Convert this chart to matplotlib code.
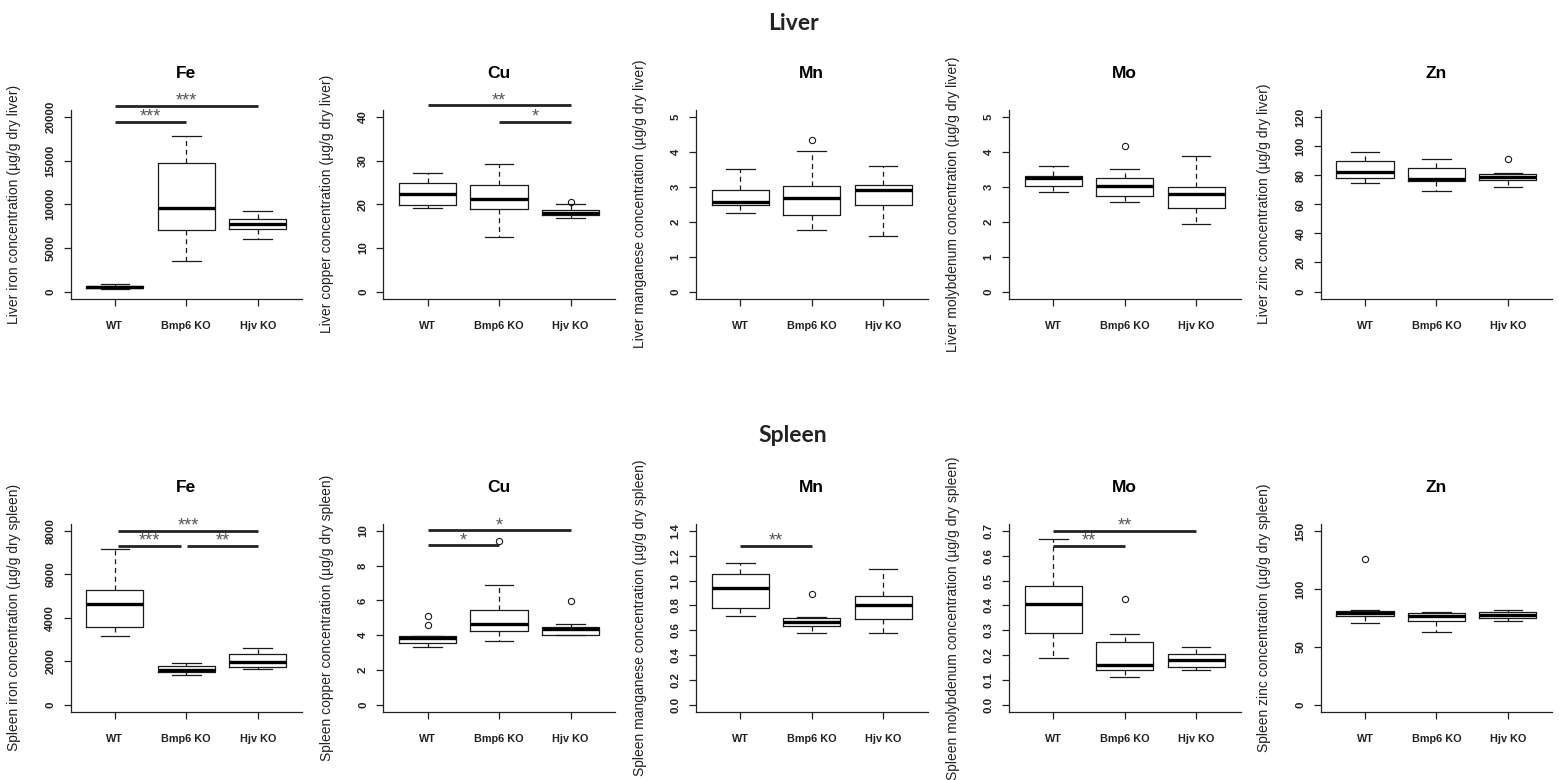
import numpy as np
import matplotlib.pyplot as plt

plt.rcParams['font.family'] = ['Liberation Sans', 'DejaVu Sans']

groups = ["WT", "Bmp6 KO", "Hjv KO"]
elements = ["Fe", "Cu", "Mn", "Mo", "Zn"]
element_names = ["iron", "copper", "manganese", "molybdenum", "zinc"]

# five-number summaries per group: whisker low, Q1, median, Q3, whisker high
liver_fe = [[300, 380, 520, 680, 850], [3460, 7100, 9600, 14700, 17860], [5980, 7180, 7750, 8270, 9170]]
liver_cu = [[19.2, 19.8, 22.4, 24.9, 27.2], [12.6, 18.8, 21.2, 24.3, 29.2], [16.9, 17.5, 17.9, 18.6, 20.0]]
liver_mn = [[2.24, 2.47, 2.57, 2.91, 3.51], [1.76, 2.19, 2.67, 3.01, 4.03], [1.59, 2.47, 2.91, 3.06, 3.61]]
liver_mo = [[2.85, 3.01, 3.26, 3.30, 3.59], [2.57, 2.75, 3.02, 3.25, 3.52], [1.93, 2.38, 2.78, 3.00, 3.87]]
liver_zn = [[74.5, 78.3, 82.0, 89.5, 95.6], [68.8, 75.8, 77.2, 84.7, 90.8], [71.7, 76.7, 78.8, 81.1, 81.7]]

spleen_fe = [[3165, 3570, 4630, 5260, 7190], [1386, 1522, 1612, 1778, 1899], [1628, 1733, 1989, 2336, 2607]]
spleen_cu = [[3.31, 3.58, 3.82, 3.97, 3.97], [3.69, 4.24, 4.65, 5.48, 6.87], [4.03, 4.03, 4.35, 4.50, 4.63]]
spleen_mn = [[0.712, 0.783, 0.941, 1.057, 1.144], [0.580, 0.635, 0.670, 0.701, 0.709], [0.575, 0.691, 0.801, 0.875, 1.091]]
spleen_mo = [[0.190, 0.290, 0.405, 0.477, 0.667], [0.113, 0.138, 0.161, 0.252, 0.283], [0.141, 0.152, 0.179, 0.206, 0.231]]
spleen_zn = [[70.9, 76.3, 78.8, 80.8, 82.2], [63.0, 72.0, 76.6, 79.1, 79.7], [72.0, 74.9, 77.4, 79.9, 82.2]]

# outliers per group
liver_fliers = [[[], [], []], [[], [], [20.6]], [[], [4.35], []], [[], [4.17], []], [[], [], [91.3]]]
spleen_fliers = [[[], [], []], [[5.10, 4.60], [9.40], [5.97]], [[], [0.891], []], [[], [0.426], []], [[126.0], [], []]]

# axis ranges and tick steps
liver_ymax = [20000, 40, 5, 5, 120]
liver_step = [5000, 10, 1, 1, 20]
spleen_ymax = [8000, 10, 1.4, 0.7, 150]
spleen_step = [2000, 2, 0.2, 0.1, 50]

# significance bars: (from group, to group, height, stars)
liver_sig = [[(1, 3, 21300, '***'), (1, 2, 19450, '***')],
             [(1, 3, 42.7, '**'), (2, 3, 38.9, '*')],
             [], [], []]
spleen_sig = [[(1.05, 3.0, 8020, '***'), (1.05, 1.93, 7330, '***'), (2.01, 3.0, 7330, '**')],
              [(1, 3, 10.05, '*'), (1, 2, 9.17, '*')],
              [(1, 2, 1.28, '**')],
              [(1, 3, 0.70, '**'), (1, 2, 0.64, '**')],
              []]

W, H = 1559, 780
fig = plt.figure(figsize=(W / 100, H / 100), dpi=100)

col_left = [70.5, 383.3, 696, 1009, 1320.7]
ax_w = 231.5
rows = [
    ("Liver", [liver_fe, liver_cu, liver_mn, liver_mo, liver_zn], liver_fliers, liver_ymax, liver_step, liver_sig, 110, 298.5, 30),
    ("Spleen", [spleen_fe, spleen_cu, spleen_mn, spleen_mo, spleen_zn], spleen_fliers, spleen_ymax, spleen_step, spleen_sig, 524, 711.7, 442),
]

for organ, panels, fliers, ymaxs, steps, sigs, top, bottom, title_base in rows:
    fig.text(793 / W, 1 - title_base / H, organ, ha='center', va='baseline',
             fontsize=16.5, fontweight='bold', family='Lato', color='#222222')
    for i in range(5):
        ax = fig.add_axes([col_left[i] / W, 1 - bottom / H, ax_w / W, (bottom - top) / H])
        stats = []
        for g in range(3):
            lo, q1, med, q3, hi = panels[i][g]
            stats.append(dict(whislo=lo, q1=q1, med=med, q3=q3, whishi=hi, fliers=fliers[i][g]))
        ax.bxp(stats, positions=[1, 2, 3], widths=0.8, capwidths=0.4, patch_artist=False,
               boxprops=dict(color='#1a1a1a', lw=0.9),
               medianprops=dict(color='black', lw=2.4, solid_capstyle='butt'),
               whiskerprops=dict(color='#1a1a1a', lw=0.9, ls=(0, (4, 3))),
               capprops=dict(color='#1a1a1a', lw=0.9),
               flierprops=dict(marker='o', mfc='none', mec='#1a1a1a', ms=4.5, mew=0.8))

        ymax = ymaxs[i]
        ax.set_ylim(-0.04 * ymax, 1.04 * ymax)
        ax.set_xlim(0.38, 3.62)
        n = int(round(ymax / steps[i]))
        ticks = np.linspace(0, ymax, n + 1)
        ax.set_yticks(ticks)
        if steps[i] < 1:
            ax.set_yticklabels(['%.1f' % t for t in ticks])
        else:
            ax.set_yticklabels(['%d' % t for t in ticks])
        for lab in ax.get_yticklabels():
            lab.set_rotation(90)
            lab.set_va('center')
        ax.set_xticks([1, 2, 3])
        ax.set_xticklabels(groups)
        ax.tick_params(axis='y', length=5, width=0.9, pad=6, labelsize=8.2, colors='#222222')
        ax.tick_params(axis='x', length=5, width=0.9, pad=11, labelsize=7.8, colors='#222222')
        for lab in ax.get_xticklabels() + ax.get_yticklabels():
            lab.set_fontweight('bold')
        for s in ['top', 'right']:
            ax.spines[s].set_visible(False)
        for s in ['left', 'bottom']:
            ax.spines[s].set_linewidth(0.9)
            ax.spines[s].set_color('#222222')

        ax.annotate(elements[i], xy=(0.5, 1), xycoords='axes fraction', xytext=(0, 26),
                    textcoords='offset points', ha='center', va='center',
                    fontsize=12.5, fontweight='bold')
        ax.text(-56.4 / ax_w, 0.5, "%s %s concentration (\u00b5g/g dry %s)" % (organ, element_names[i], organ.lower()),
                transform=ax.transAxes, rotation=90, ha='center', va='center', fontsize=10,
                color='#222222')

        for x1, x2, y, stars in sigs[i]:
            ax.plot([x1, x2], [y, y], color='#222222', lw=2, clip_on=False, solid_capstyle='butt')
            ax.annotate(stars, xy=((x1 + x2) / 2, y), xytext=(0, 0), textcoords='offset points',
                        ha='center', va='baseline', fontsize=13, color='#555555',
                        annotation_clip=False)

fig.savefig('out.png', dpi=100)
